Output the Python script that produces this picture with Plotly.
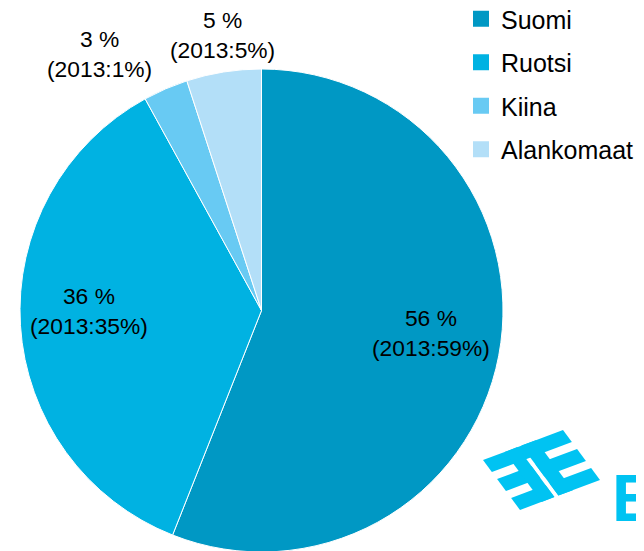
import math
import plotly.graph_objects as go

labels = ["Suomi", "Ruotsi", "Kiina", "Alankomaat"]
values = [56, 36, 3, 5]
values_2013 = [59, 35, 1, 5]
colors = ["#0098C4", "#00B2E2", "#68CAF3", "#B3DFF8"]

W, H = 644, 551
FONT = "Liberation Sans, Arial"
OFF = 8  # page body margin offset of the figure in the browser


def px(x, y):
    """screen pixel -> paper fraction"""
    return (x - OFF) / W, 1 - (y - OFF) / H


# pie geometry (screen pixels)
X0, X1, YTOP, YBOT = 20, 503, 69, 552
dom_x = [px(X0, 0)[0], px(X1, 0)[0]]
dom_y = [px(0, YBOT)[1], px(0, YTOP)[1]]

fig = go.Figure()
fig.add_trace(go.Pie(
    labels=labels,
    values=values,
    customdata=values_2013,
    sort=False,
    direction="clockwise",
    rotation=0,
    marker=dict(colors=colors, line=dict(color="white", width=1)),
    textinfo="none",
    hovertemplate="%{label}: %{value} % (2013: %{customdata} %)<extra></extra>",
    showlegend=False,
    domain=dict(x=dom_x, y=dom_y),
))

# legend entries (square markers)
for i, (lab, col) in enumerate(zip(labels, colors)):
    fig.add_trace(go.Scatter(
        x=[None], y=[None], mode="markers", name=lab, legendgroup=f"g{i}",
        marker=dict(symbol="square", size=16, color=col),
        showlegend=True, hoverinfo="skip",
    ))

# pie centre and radius in screen pixels (as plotly lays it out)
wpx = (dom_x[1] - dom_x[0]) * W
hpx = (dom_y[1] - dom_y[0]) * H
R = min(wpx, hpx) / 2
CX = (dom_x[0] + dom_x[1]) / 2 * W + OFF
CY = H - (dom_y[0] + dom_y[1]) / 2 * H + OFF

total = sum(values)
annotations = []
cum = 0
# outside label placement (screen pixels) for the two small slices
outside_pos = {2: (99, 54), 3: (222, 35)}
for i, v in enumerate(values):
    mid = (cum + v / 2) / total * 2 * math.pi
    cum += v
    txt = f"{v} %<br>(2013:{values_2013[i]}%)"
    if i in outside_pos:
        lx, ly = outside_pos[i]
    else:
        k = 0.715
        lx = CX + k * R * math.sin(mid)
        ly = CY - k * R * math.cos(mid) - 10
    ax, ay = px(lx, ly)
    annotations.append(dict(
        text=txt, x=ax, y=ay, xref="paper", yref="paper",
        xanchor="center", yanchor="middle", showarrow=False, align="center",
        font=dict(family=FONT, size=22.8, color="black"),
    ))

# decorative logo (approximation)
A = (483.0, 460.0)
U = (80.0, -30.0)
V = (37.0, 50.0)


def P(s, t):
    return px(A[0] + s * U[0] + t * V[0], A[1] + s * U[1] + t * V[1])


def quad(s0, s1, t0, t1):
    pts = [P(s0, t0), P(s1, t0), P(s1, t1), P(s0, t1)]
    return "M " + " L ".join(f"{x:.5f},{y:.5f}" for x, y in pts) + " Z"


rects = [
    (0.0, 1.0, 0.0, 0.24),
    (0.0, 0.43, 0.38, 0.62),
    (0.0, 0.43, 0.76, 1.0),
    (0.27, 0.43, 0.0, 1.0),
    (0.48, 0.66, 0.0, 1.0),
    (0.48, 1.0, 0.38, 0.62),
    (0.48, 1.0, 0.76, 1.0),
]
shapes = []
for r in rects:
    shapes.append(dict(type="path", xref="paper", yref="paper", path=quad(*r),
                       fillcolor="#00C3F2", line=dict(width=0), layer="above"))

ex, ey = px(610, 537)
annotations.append(dict(
    text="<b>E</b>", xref="paper", yref="paper",
    x=ex, y=ey, xanchor="left", yanchor="bottom",
    showarrow=False,
    font=dict(family=FONT, size=66, color="#00C3F2"),
))

lx, ly = px(461, -4)
fig.update_layout(
    width=W, height=H,
    margin=dict(l=0, r=0, t=0, b=0, autoexpand=False),
    paper_bgcolor="white",
    plot_bgcolor="white",
    xaxis=dict(visible=False),
    yaxis=dict(visible=False),
    showlegend=True,
    legend=dict(
        x=lx, y=ly, xanchor="left", yanchor="top",
        font=dict(family=FONT, size=25, color="black"),
        bgcolor="rgba(0,0,0,0)",
        traceorder="grouped",
        tracegroupgap=8,
        itemsizing="trace",
    ),
    shapes=shapes,
    annotations=annotations,
)

fig.write_html("out.html")
